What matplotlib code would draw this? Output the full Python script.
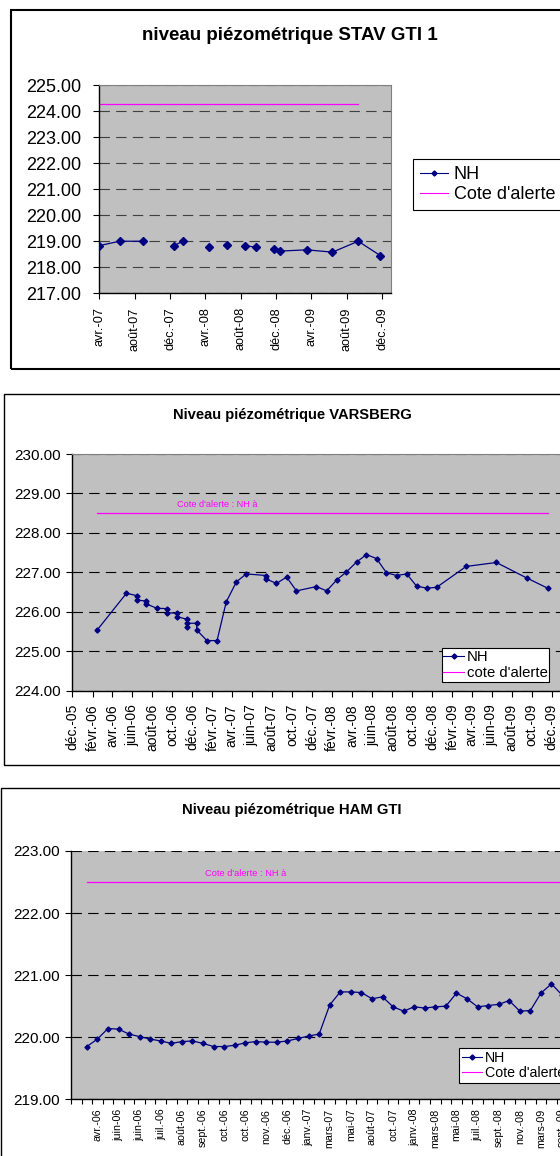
import matplotlib
matplotlib.use("Agg")
import matplotlib.pyplot as plt
import matplotlib.dates as mdates
from matplotlib.patches import Rectangle
from matplotlib.lines import Line2D
from matplotlib.ticker import FuncFormatter, FixedLocator, MultipleLocator
import numpy as np
import pandas as pd

plt.rcParams['font.family'] = ['Liberation Sans', 'DejaVu Sans']
plt.rcParams['lines.scale_dashes'] = False

W, H, DPI = 560, 1156, 100

# ---------------- data ----------------
months_fr = ['janv.', 'févr.', 'mars', 'avr.', 'mai', 'juin',
             'juil.', 'août', 'sept.', 'oct.', 'nov.', 'déc.']

# STAV GTI 1 (None = missing measurement -> gap in line)
stav_dates = ['2007-04-01', '2007-06-10', '2007-08-30', '2007-10-20',
              '2007-12-14', '2008-01-13', '2008-03-01', '2008-04-13',
              '2008-05-15', '2008-06-13', '2008-07-15', '2008-08-16',
              '2008-09-22', '2008-10-20', '2008-11-22', '2008-12-13',
              '2009-03-16', '2009-06-13', '2009-09-10', '2009-11-25']
stav_nh = [218.83, 219.00, 219.00, None,
           218.82, 219.00, None, 218.77,
           None, 218.87, None, 218.83,
           218.77, None, 218.69, 218.62,
           218.67, 218.58, 219.00, 218.45]
stav_alert_dates = ['2007-04-01', '2009-09-10']
stav_alert_level = 224.27

# VARSBERG
vars_dates = ['2006-02-15', '2006-05-15', '2006-06-15', '2006-06-15',
              '2006-07-15', '2006-07-15', '2006-08-15', '2006-09-15',
              '2006-09-15', '2006-10-15', '2006-10-15', '2006-11-15',
              '2006-11-15', '2006-11-15', '2006-12-15', '2006-12-15',
              '2007-01-15', '2007-02-15', '2007-03-15', '2007-04-15',
              '2007-05-15', '2007-07-15', '2007-07-15', '2007-08-15',
              '2007-09-15', '2007-10-15', '2007-12-15', '2008-01-15',
              '2008-02-15', '2008-03-15', '2008-04-15', '2008-05-15',
              '2008-06-15', '2008-07-15', '2008-08-15', '2008-09-15',
              '2008-10-15', '2008-11-15', '2008-12-15', '2009-03-15',
              '2009-06-15', '2009-09-15', '2009-11-18']
vars_nh = [225.54, 226.47, 226.41, 226.30,
           226.27, 226.20, 226.09, 226.08,
           225.98, 225.96, 225.88, 225.81,
           225.61, 225.71, 225.71, 225.54,
           225.27, 225.27, 226.25, 226.76,
           226.96, 226.92, 226.83, 226.72,
           226.88, 226.53, 226.64, 226.53,
           226.81, 227.01, 227.26, 227.45,
           227.35, 226.99, 226.92, 226.96,
           226.65, 226.60, 226.62, 227.15,
           227.25, 226.86, 226.60]
vars_alert_level = 228.5
vars_label_index = 17

# HAM GTI (category axis, points on categories 1..46)
ham_nh = [219.85, 219.97, 220.14, 220.13, 220.05, 220.01, 219.97, 219.94,
          219.90, 219.93, 219.94, 219.90, 219.85, 219.85, 219.87, 219.91,
          219.93, 219.92, 219.92, 219.94, 219.98, 220.02, 220.05, 220.52,
          220.73, 220.73, 220.72, 220.62, 220.65, 220.49, 220.42, 220.49,
          220.47, 220.49, 220.50, 220.71, 220.62, 220.49, 220.51, 220.53,
          220.59, 220.42, 220.43, 220.71, 220.86, 220.68]
ham_tick_labels = ['avr.-06', 'juin-06', 'juin-06', 'juil.-06', 'août-06',
                   'sept.-06', 'oct.-06', 'oct.-06', 'nov.-06', 'déc.-06',
                   'janv.-07', 'mars-07', 'mai-07', 'août-07', 'oct.-07',
                   'janv.-08', 'mars-08', 'mai-08', 'juil.-08', 'sept.-08',
                   'nov.-08', 'mars-09', 'sept.-09']
ham_alert_level = 222.5
ham_label_category = 16

# ---------------- helpers ----------------
NAVY = '#000080'
MAG = '#FF00FF'
GRAY = '#C0C0C0'

fig = plt.figure(figsize=(W / DPI, H / DPI), dpi=DPI)
fig.patch.set_facecolor('white')


def fbox(l, t, r, b):
    return [l / W, 1 - b / H, (r - l) / W, (b - t) / H]


def border(l, t, r, b, lw=1.2):
    fig.add_artist(Rectangle((l / W, 1 - b / H), (r - l) / W, (b - t) / H,
                             transform=fig.transFigure, fill=False,
                             edgecolor='black', linewidth=lw, zorder=0))


def month_fmt(x, pos=None):
    d = mdates.num2date(x)
    return f"{months_fr[d.month - 1]}-{d.year % 100:02d}"


def style_axes(ax, gridcolor, ylab_fs, ypad):
    ax.set_facecolor(GRAY)
    ax.spines['left'].set_color('black')
    ax.spines['bottom'].set_color('black')
    ax.spines['left'].set_linewidth(1.0)
    ax.spines['bottom'].set_linewidth(1.0)
    ax.spines['top'].set_color('#808080')
    ax.spines['right'].set_color('#808080')
    ax.yaxis.set_major_formatter(FuncFormatter(lambda v, p: f"{v:.2f}"))
    ax.tick_params(axis='y', direction='out', length=4, width=0.8,
                   labelsize=ylab_fs, pad=ypad, colors='black')
    ax.grid(axis='y', color=gridcolor, linestyle=(0, (7.5, 4.5)), linewidth=0.8)
    ax.grid(axis='x', visible=False)
    ax.set_axisbelow(True)


def legend(ax, l, t, fs, handlelength, textpad, bpad, lspace, labels):
    h = [Line2D([], [], color=NAVY, lw=0.8, marker='D', ms=2.6,
                markerfacecolor=NAVY, markeredgecolor=NAVY),
         Line2D([], [], color=MAG, lw=0.8)]
    leg = ax.legend(h, labels, loc='upper left',
                    bbox_to_anchor=(l / W, 1 - t / H),
                    bbox_transform=fig.transFigure, frameon=True,
                    fancybox=False, edgecolor='black', framealpha=1,
                    facecolor='white', fontsize=fs, borderaxespad=0,
                    handlelength=handlelength, handletextpad=textpad,
                    borderpad=bpad, labelspacing=lspace)
    leg.get_frame().set_linewidth(0.8)
    return leg


# ================= Panel 1 : STAV GTI 1 =================
border(11, 9.5, 620, 368.5, lw=1.5)
fig.text(290 / W, 1 - 35 / H, 'niveau piézométrique STAV GTI 1',
         ha='center', va='center', fontsize=13.5, fontweight='bold')
ax1 = fig.add_axes(fbox(99.3, 85, 391, 293.3))
style_axes(ax1, '#404040', 13, 9)
d1 = pd.to_datetime(stav_dates)
v1 = np.array([np.nan if v is None else v for v in stav_nh], dtype=float)
ax1.plot(d1, v1, color=NAVY, lw=0.9, marker='D', ms=3.8,
         markerfacecolor=NAVY, markeredgecolor=NAVY, zorder=3)
ax1.plot(pd.to_datetime(stav_alert_dates),
         [stav_alert_level] * len(stav_alert_dates), color=MAG, lw=0.9, zorder=2)
ax1.set_ylim(217, 225)
ax1.yaxis.set_major_locator(MultipleLocator(1))
ax1.set_xlim(pd.Timestamp('2007-04-01'), pd.Timestamp('2010-01-01'))
ax1.xaxis.set_major_locator(mdates.MonthLocator(bymonth=[4, 8, 12]))
ax1.xaxis.set_major_formatter(FuncFormatter(month_fmt))
ax1.tick_params(axis='x', direction='out', length=4, width=0.8,
                labelsize=9.2, pad=6, labelrotation=90)
legend(ax1, 413, 159.3, 13, 1.55, 0.32, 0.38, 0.15, ['NH', "Cote d'alerte"])

# ================= Panel 2 : VARSBERG =================
border(3.5, 394, 620, 765, lw=1.0)
fig.text(292 / W, 1 - 415 / H, 'Niveau piézométrique VARSBERG',
         ha='center', va='center', fontsize=10.6, fontweight='bold')
ax2 = fig.add_axes(fbox(72.3, 454, 562, 690.7))
style_axes(ax2, 'black', 11, 4.3)
d2 = pd.to_datetime(vars_dates)
ax2.plot(d2, vars_nh, color=NAVY, lw=0.9, marker='D', ms=2.6,
         markerfacecolor=NAVY, markeredgecolor=NAVY, zorder=3)
ax2.plot([d2[0], d2[-1]], [vars_alert_level, vars_alert_level],
         color=MAG, lw=0.9, zorder=2)
ax2.annotate("Cote d'alerte : NH à", (d2[vars_label_index], vars_alert_level),
             xytext=(0, 3), textcoords='offset points', ha='center',
             va='bottom', fontsize=6.6, color=MAG)
ax2.set_ylim(224, 230)
ax2.yaxis.set_major_locator(MultipleLocator(1))
ax2.set_xlim(pd.Timestamp('2005-12-01'), pd.Timestamp('2010-01-01'))
ax2.xaxis.set_major_locator(mdates.MonthLocator(bymonth=[2, 4, 6, 8, 10, 12]))
ax2.xaxis.set_major_formatter(FuncFormatter(month_fmt))
ax2.tick_params(axis='x', direction='out', length=4, width=0.8,
                labelsize=10, pad=5.5, labelrotation=90)
legend(ax2, 441.7, 648.3, 10.7, 1.4, 0.17, 0.12, 0.12, ['NH', "cote d'alerte"])

# ================= Panel 3 : HAM GTI =================
border(1, 788, 620, 1200, lw=1.0)
fig.text(292 / W, 1 - 810 / H, 'Niveau piézométrique HAM GTI',
         ha='center', va='center', fontsize=10.7, fontweight='bold')
cat_w = 10.56
ax3 = fig.add_axes(fbox(71, 851, 71 + 49 * cat_w, 1099.3))
style_axes(ax3, 'black', 11, 4.3)
ax3.spines['top'].set_visible(False)
ax3.spines['right'].set_visible(False)
xc = np.arange(1, len(ham_nh) + 1)
ax3.plot(xc, ham_nh, color=NAVY, lw=0.9, marker='D', ms=2.6,
         markerfacecolor=NAVY, markeredgecolor=NAVY, zorder=3)
ax3.plot([xc[0], xc[-1] + 2], [ham_alert_level, ham_alert_level],
         color=MAG, lw=0.9, zorder=2)
ax3.annotate("Cote d'alerte : NH à", (ham_label_category, ham_alert_level),
             xytext=(0, 3), textcoords='offset points', ha='center',
             va='bottom', fontsize=6.7, color=MAG)
ax3.set_ylim(219, 223)
ax3.set_yticks([219, 220, 221, 222, 223])
ax3.set_xlim(-0.5, 48.5)
label_pos = [2 + 2 * i for i in range(len(ham_tick_labels))]
ax3.xaxis.set_major_locator(FixedLocator(label_pos))
ax3.set_xticklabels(ham_tick_labels)
ax3.xaxis.set_minor_locator(FixedLocator(np.arange(-0.5, 49, 1.0)))
ax3.tick_params(axis='x', which='major', length=0, labelsize=7.7,
                pad=6.8, labelrotation=90)
ax3.tick_params(axis='x', which='minor', direction='out', length=3.3, width=0.8)
legend(ax3, 459, 1047.7, 10.2, 1.4, 0.25, 0.2, 0.12, ['NH', "Cote d'alerte"])

fig.savefig('out.png', dpi=DPI)
